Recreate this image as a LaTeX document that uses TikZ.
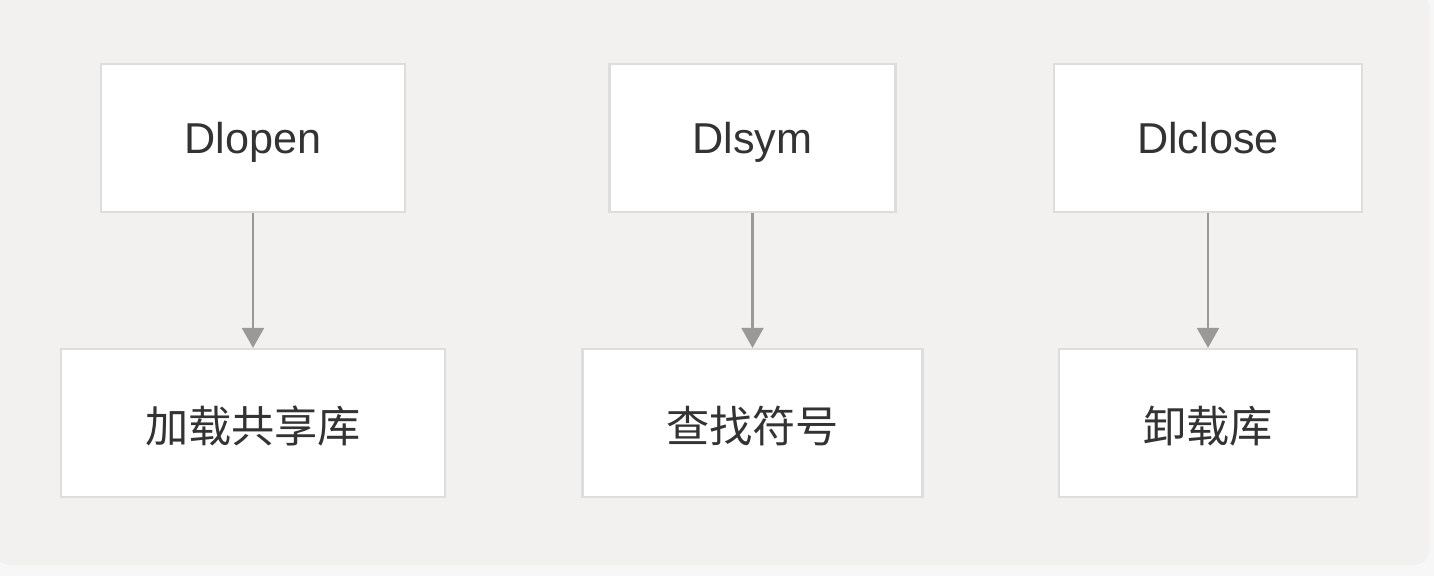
\documentclass[tikz,border=0pt]{standalone}
\usepackage{fontspec}
\setmainfont{Liberation Sans}
\newfontfamily\cjk{Noto Sans CJK SC}
\usetikzlibrary{arrows.meta}
\definecolor{bgouter}{HTML}{F7F7F7}
\definecolor{bgpanel}{HTML}{F2F1EF}
\definecolor{boxline}{HTML}{DDDDDD}
\definecolor{arrowgray}{HTML}{999999}
\definecolor{textcol}{HTML}{333333}
\begin{document}
\begin{tikzpicture}[x=0.5pt,y=-0.5pt,
    fn/.style={draw=boxline,line width=1.1pt,fill=white,text=textcol,font=\fontsize{21.6}{26}\selectfont,inner sep=0pt,text height=15.5pt,text depth=0pt,minimum height=74pt},
    act/.style={fn,font=\cjk\fontsize{21.6}{26}\selectfont,text height=19.5pt},
    link/.style={draw=arrowgray,line width=1.1pt,-{Triangle[width=11pt,length=10pt]}}]
    \useasboundingbox (0,0) rectangle (1434,576);
    \fill[bgouter] (0,0) rectangle (1434,576);
    \fill[bgpanel,rounded corners=8pt] (-6,-6) rectangle (1430,565);
    % top row: the three calls
    \node[fn,minimum width=152pt] (open)  at (253,138) {Dlopen};
    \node[fn,minimum width=143pt] (sym)   at (752.5,138) {Dlsym};
    \node[fn,minimum width=154pt] (close) at (1208,138) {Dlclose};
    % bottom row: what they do
    \node[act,minimum width=192pt] (load)   at (253,423) {加载共享库};
    \node[act,minimum width=170pt] (find)   at (752.5,423) {查找符号};
    \node[act,minimum width=149pt] (unload) at (1208,423) {卸载库};
    \draw[link] (open) -- (load);
    \draw[link] (sym) -- (find);
    \draw[link] (close) -- (unload);
\end{tikzpicture}
\end{document}
